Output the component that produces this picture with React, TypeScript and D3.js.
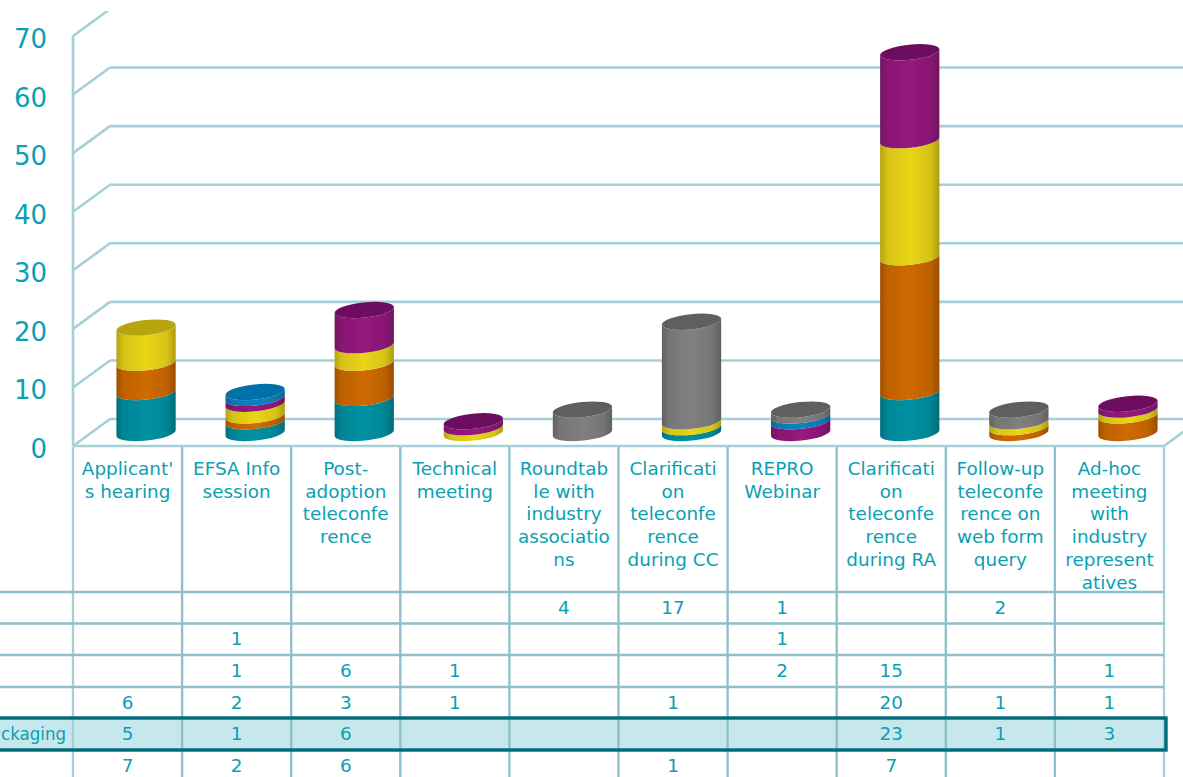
import React from "react";
import * as d3 from "d3";

const categories = [
  "Applicant's hearing", "EFSA Info session", "Post-adoption teleconference", "Technical meeting",
  "Roundtable with industry associations", "Clarification teleconference during CC", "REPRO Webinar",
  "Clarification teleconference during RA", "Follow-up teleconference on web form query",
  "Ad-hoc meeting with industry representatives",
];
const categoryLines = [
  ["Applicant'", "s hearing"], ["EFSA Info", "session"], ["Post-", "adoption", "teleconfe", "rence"],
  ["Technical", "meeting"], ["Roundtab", "le with", "industry", "associatio", "ns"],
  ["Clarificati", "on", "teleconfe", "rence", "during CC"], ["REPRO", "Webinar"],
  ["Clarificati", "on", "teleconfe", "rence", "during RA"], ["Follow-up", "teleconfe", "rence on", "web form", "query"],
  ["Ad-hoc", "meeting", "with", "industry", "represent", "atives"],
];
const teal = [7, 2, 6, 0, 0, 1, 0, 7, 0, 0];
const orange = [5, 1, 6, 0, 0, 0, 0, 23, 1, 3];
const yellow = [6, 2, 3, 1, 0, 1, 0, 20, 1, 1];
const purple = [0, 1, 6, 1, 0, 0, 2, 15, 0, 1];
const blue = [0, 1, 0, 0, 0, 0, 1, 0, 0, 0];
const gray = [0, 0, 0, 0, 4, 17, 1, 0, 2, 0];
const seriesNames = ["teal", "orange", "yellow", "purple", "blue", "gray"];
const seriesValues = [teal, orange, yellow, purple, blue, gray];
const seriesColors = ["#0091a3", "#cf6a05", "#ead516", "#951a7e", "#0a82c2", "#808080"];
const capColors = ["#00707e", "#a85504", "#b8a50c", "#6c1060", "#0570a8", "#5f5f5f"];
const tableOrder = [5, 4, 3, 2, 1, 0];
const highlightedLabel = "ckaging";
const yTicks = [0, 10, 20, 30, 40, 50, 60, 70];

const W = 1183, H = 777;
const TEXT = "#0a9fb3", GRID = "#a6d0d8", TABLE = "#8dbfc9", HL = "#006b7a";
const FONT = "'DejaVu Sans', Verdana, sans-serif";

export default function App() {
  const x = d3.scaleBand<number>().domain(d3.range(categories.length)).range([73, 1164]);
  const y = d3.scaleLinear().domain([0, 70]).range([446, 36]);
  const rows = [592, 623.5, 655, 687, 718, 750];

  const table = categories.map((_, i) => Object.fromEntries(seriesNames.map((s, k) => [s, seriesValues[k][i]])));
  const stacked = d3.stack<any>().keys(seriesNames)(table);

  const dx = 37, dy = 27;
  const cylOffset = 18.5, rx = 29.8, ry = 7.6, rot = -6;
  const rad = (rot * Math.PI) / 180;
  const ex = rx * Math.cos(rad), ey = rx * Math.sin(rad);
  const cy = (v: number) => y(v) - 13;

  const seg = (cx: number, v0: number, v1: number) => {
    const a = cy(v0), b = cy(v1);
    return `M${cx - ex},${a - ey} A${rx},${ry} ${rot} 0 0 ${cx + ex},${a + ey} L${cx + ex},${b + ey} A${rx},${ry} ${rot} 0 1 ${cx - ex},${b - ey} Z`;
  };

  return (
    <svg width={W} height={H} viewBox={`0 0 ${W} ${H}`} style={{ position: "absolute", left: 0, top: 0, background: "#fff", fontFamily: FONT }}>
      <defs>
        <clipPath id="plot"><rect x={0} y={11} width={W} height={H - 11} /></clipPath>
        <filter id="soft" x="-5%" y="-5%" width="110%" height="110%"><feGaussianBlur stdDeviation="0.45" /></filter>
        {seriesColors.map((c, i) => {
          const col = d3.color(c)!;
          return (
            <linearGradient id={`g${i}`} key={c} x1="0" x2="1" y1="0" y2="0">
              <stop offset="0" stopColor={col.darker(0.75).formatHex()} />
              <stop offset="0.12" stopColor={col.darker(0.25).formatHex()} />
              <stop offset="0.5" stopColor={c} />
              <stop offset="0.85" stopColor={col.darker(0.25).formatHex()} />
              <stop offset="1" stopColor={col.darker(0.85).formatHex()} />
            </linearGradient>
          );
        })}
      </defs>

      <g clipPath="url(#plot)" stroke={GRID} strokeWidth={2.6} fill="none">
        {yTicks.map((t) => (
          <g key={t}>
            <line x1={73} y1={y(t)} x2={73 + dx} y2={y(t) - dy} />
            <line x1={73 + dx} y1={y(t) - dy} x2={W} y2={y(t) - dy} />
          </g>
        ))}
        <line x1={73} y1={y(0)} x2={73} y2={y(70)} />
        <line x1={73} y1={y(0)} x2={1164} y2={y(0)} />
        <line x1={1164} y1={y(0)} x2={1164 + dx} y2={y(0) - dy} />
      </g>

      {yTicks.map((t) => (
        <text key={t} x={47} y={y(t) + 12} textAnchor="end" fontSize={26} fill={TEXT}>{t}</text>
      ))}

      <g filter="url(#soft)">
        {stacked.map((layer, k) =>
          layer.map((d, i) => {
            if (d[1] === d[0]) return null;
            const cx = x(i)! + x.bandwidth() / 2 + cylOffset;
            return <path key={`${k}-${i}`} d={seg(cx, d[0], d[1])} fill={`url(#g${k})`} />;
          })
        )}
        {categories.map((_, i) => {
          const total = d3.sum(seriesValues, (s) => s[i]);
          const topIdx = d3.max(seriesValues.map((s, k) => (s[i] > 0 ? k : -1)))!;
          const cx = x(i)! + x.bandwidth() / 2 + cylOffset;
          return (
            <ellipse key={i} cx={cx} cy={cy(total)} rx={rx} ry={ry} fill={capColors[topIdx]}
              transform={`rotate(${rot} ${cx} ${cy(total)})`} />
          );
        })}
      </g>

      <rect x={-5} y={rows[4]} width={1171} height={rows[5] - rows[4]} fill="#c6e8ed" />
      <g stroke={TABLE} strokeWidth={2.3}>
        {d3.range(categories.length + 1).map((i) => {
          const vx = 73 + i * x.step();
          return <line key={i} x1={vx} y1={447} x2={vx} y2={H} stroke={i === 0 || i === categories.length ? GRID : TABLE} />;
        })}
        {rows.map((r) => <line key={r} x1={0} y1={r} x2={1164} y2={r} />)}
      </g>
      <rect x={-5} y={rows[4]} width={1171} height={rows[5] - rows[4]} fill="none" stroke={HL} strokeWidth={3.4} />

      <g fontSize={18.4} fill={TEXT} textAnchor="middle">
        {categoryLines.map((lines, i) => (
          <text key={i} x={x(i)! + x.bandwidth() / 2} y={475}>
            {lines.map((l, j) => <tspan key={j} x={x(i)! + x.bandwidth() / 2} y={475 + j * 22.7}>{l}</tspan>)}
          </text>
        ))}
        {tableOrder.map((k, r) =>
          seriesValues[k].map((v, i) =>
            v > 0 ? <text key={`${r}-${i}`} x={x(i)! + x.bandwidth() / 2} y={rows[r] + 21.5}>{v}</text> : null
          )
        )}
        <text x={1} y={rows[4] + 22} textAnchor="start" textLength={65} lengthAdjust="spacingAndGlyphs">{highlightedLabel}</text>
      </g>
    </svg>
  );
}
